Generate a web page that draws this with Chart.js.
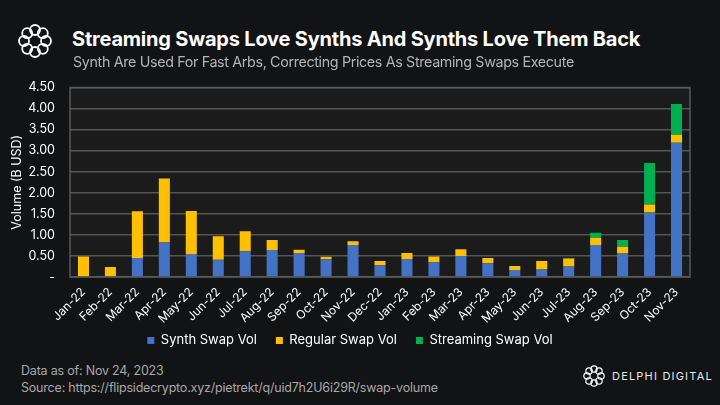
<!DOCTYPE html>
<html lang="en">
  <head>
    <meta charset="UTF-8" />
    <title>Streaming Swaps Love Synths</title>
    <script src="https://cdn.jsdelivr.net/npm/chart.js"></script>
    <style>
      * {
        margin: 0;
        padding: 0;
        box-sizing: border-box;
      }

      body {
        width: 720px;
        height: 405px;
        background-color: #121314;
        font-family: Inter, "Noto Sans", sans-serif;
        color: #fff;
        position: relative;
        overflow: hidden;
      }

      .title {
        position: absolute;
        left: 72px;
        top: 27px;
        font-size: 20px;
        font-weight: 700;
        letter-spacing: -0.2px;
        white-space: nowrap;
      }

      .subtitle {
        position: absolute;
        left: 73px;
        top: 53px;
        font-size: 14.3px;
        color: #b4b4b4;
        letter-spacing: -0.35px;
        white-space: nowrap;
      }

      .footer {
        position: absolute;
        left: 21px;
        top: 362px;
        font-size: 12.5px;
        line-height: 17px;
        color: #a8a8a8;
        letter-spacing: -0.2px;
      }

      .brand {
        position: absolute;
        left: 612px;
        top: 369px;
        font-size: 11px;
        letter-spacing: 1.2px;
        color: #e8e8e8;
        white-space: nowrap;
      }

      #logo, #logo-small {
        position: absolute;
      }

      .chart-box {
        position: absolute;
        left: 0;
        top: 65px;
        width: 720px;
        height: 292px;
      }
    </style>
  </head>
  <body>
    <canvas id="logo" width="40" height="40" style="left: 15px; top: 21px"></canvas>
    <div class="title">Streaming Swaps Love Synths And Synths Love Them Back</div>
    <div class="subtitle">Synth Are Used For Fast Arbs, Correcting Prices As Streaming Swaps Execute</div>

    <div class="chart-box">
      <canvas id="swap-chart"></canvas>
    </div>

    <div class="footer">
      Data as of: Nov 24, 2023<br />
      Source: https://flipsidecrypto.xyz/pietrekt/q/uid7h2U6i29R/swap-volume
    </div>
    <canvas id="logo-small" width="24" height="24" style="left: 582px; top: 364px"></canvas>
    <div class="brand">DELPHI DIGITAL</div>

    <script>
      // monthly swap volume, billions of USD
      const months = [
        "Jan-22", "Feb-22", "Mar-22", "Apr-22", "May-22", "Jun-22",
        "Jul-22", "Aug-22", "Sep-22", "Oct-22", "Nov-22", "Dec-22",
        "Jan-23", "Feb-23", "Mar-23", "Apr-23", "May-23", "Jun-23",
        "Jul-23", "Aug-23", "Sep-23", "Oct-23", "Nov-23",
      ];
      const synthVol = [
        0, 0, 0.45, 0.82, 0.55, 0.41, 0.61, 0.64, 0.57, 0.42, 0.76, 0.28,
        0.43, 0.35, 0.5, 0.33, 0.17, 0.18, 0.25, 0.76, 0.56, 1.53, 3.19,
      ];
      const regularVol = [
        0.49, 0.24, 1.11, 1.52, 1.02, 0.56, 0.48, 0.24, 0.08, 0.06, 0.09, 0.1,
        0.14, 0.14, 0.16, 0.12, 0.09, 0.2, 0.19, 0.17, 0.16, 0.19, 0.19,
      ];
      const streamingVol = [
        0, 0, 0, 0, 0, 0, 0, 0, 0, 0, 0, 0,
        0, 0, 0, 0, 0, 0, 0.01, 0.12, 0.16, 0.99, 0.73,
      ];
      const yTicks = [0, 0.5, 1, 1.5, 2, 2.5, 3, 3.5, 4, 4.5];

      // little ring logo made of loops
      function drawLogo(id, r, loop, w) {
        var c = document.getElementById(id);
        var ctx = c.getContext("2d");
        var cx = c.width / 2;
        var cy = c.height / 2;
        ctx.strokeStyle = "#fff";
        ctx.lineWidth = w;
        for (var i = 0; i < 8; i++) {
          var a = (i * Math.PI) / 4;
          ctx.beginPath();
          ctx.arc(cx + r * Math.cos(a), cy + r * Math.sin(a), loop, 0, Math.PI * 2);
          ctx.stroke();
        }
      }
      drawLogo("logo", 11, 5, 1.8);
      drawLogo("logo-small", 7, 3.2, 1.2);

      // plot area fill + frame
      const plotBackground = {
        id: "plotBackground",
        beforeDraw(chart) {
          const { ctx, chartArea } = chart;
          ctx.save();
          ctx.fillStyle = "#1b1b1b";
          ctx.fillRect(chartArea.left, chartArea.top, chartArea.width, chartArea.height);
          ctx.restore();
        },
        afterDatasetsDraw(chart) {
          const { ctx, chartArea } = chart;
          ctx.save();
          ctx.strokeStyle = "#5a5a5a";
          ctx.lineWidth = 1.5;
          ctx.strokeRect(chartArea.left, chartArea.top, chartArea.width, chartArea.height);
          ctx.restore();
        },
      };

      Chart.defaults.font.family = "Inter, 'Noto Sans', sans-serif";
      Chart.defaults.color = "#ffffff";

      var ctx = document.getElementById("swap-chart").getContext("2d");
      new Chart(ctx, {
        type: "bar",
        data: {
          labels: months,
          datasets: [
            {
              label: "Synth Swap Vol",
              data: synthVol,
              backgroundColor: "#4472c4",
            },
            {
              label: "Regular Swap Vol",
              data: regularVol,
              backgroundColor: "#ffc000",
            },
            {
              label: "Streaming Swap Vol",
              data: streamingVol,
              backgroundColor: "#00b050",
            },
          ],
        },
        options: {
          responsive: true,
          maintainAspectRatio: false,
          animation: false,
          datasets: {
            bar: {
              barPercentage: 0.41,
              categoryPercentage: 1,
            },
          },
          layout: {
            padding: { left: 10, right: 30, top: 0, bottom: 0 },
          },
          plugins: {
            legend: {
              position: "bottom",
              labels: {
                boxWidth: 7,
                boxHeight: 7,
                padding: 8,
                color: "#ffffff",
                font: { size: 13 },
                // tight vertical padding, keep the wider gap between items
                generateLabels(chart) {
                  const items = Chart.defaults.plugins.legend.labels.generateLabels(chart);
                  items.forEach((it, i) => {
                    if (i < items.length - 1) it.text += "   ";
                  });
                  return items;
                },
              },
            },
            tooltip: { enabled: false },
          },
          scales: {
            x: {
              stacked: true,
              grid: { display: false },
              border: { display: false },
              ticks: {
                minRotation: 45,
                maxRotation: 45,
                autoSkip: false,
                color: "#ffffff",
                font: { size: 12 },
                padding: 0,
              },
            },
            y: {
              stacked: true,
              min: 0,
              max: 4.5,
              afterBuildTicks(axis) {
                axis.ticks = yTicks.map((v) => ({ value: v }));
              },
              afterFit(axis) {
                axis.width = 60;
              },
              grid: { color: "#555555", lineWidth: 1.5, drawTicks: false },
              border: { display: false },
              ticks: {
                autoSkip: false,
                color: "#ffffff",
                font: { size: 12.5 },
                padding: 15,
                callback: (v) => (v === 0 ? "-" : v.toFixed(2)),
              },
              title: {
                display: true,
                text: "Volume (B USD)",
                color: "#ffffff",
                font: { size: 12.5 },
                padding: { top: 0, bottom: 4 },
              },
            },
          },
        },
        plugins: [plotBackground],
      });
    </script>
  </body>
</html>
